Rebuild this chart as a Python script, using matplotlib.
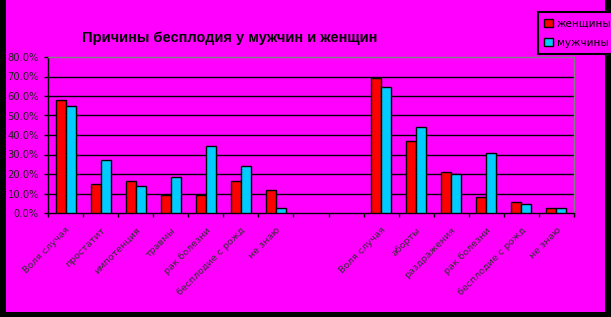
import numpy as np
import matplotlib
matplotlib.use("Agg")
import matplotlib.pyplot as plt
from matplotlib.patches import Rectangle

# Data (share of answers)
labels_left = ["Воля случая", "простатит", "импотенция", "травмы",
               "рак болезни", "бесплодие с рожд", "не знаю"]
women_left = [58.0, 14.9, 16.4, 9.4, 9.4, 16.4, 11.8]
men_left = [55.0, 27.2, 13.9, 18.5, 34.4, 24.1, 2.6]

labels_right = ["Воля случая", "аборты", "раздражения", "рак болезни",
                "бесплодие с рожд", "не знаю"]
women_right = [69.3, 37.0, 21.1, 8.2, 5.7, 2.6]
men_right = [64.7, 44.2, 20.0, 30.8, 4.6, 2.6]

n_gap = 2  # empty categories between the two groups

labels = labels_left + [""] * n_gap + labels_right
women = women_left + [np.nan] * n_gap + women_right
men = men_left + [np.nan] * n_gap + men_right

pink = "#FF00FF"
red = "#FF0000"
cyan = "#00CCFF"

W, H = 611, 317
fig = plt.figure(figsize=(W / 100, H / 100), dpi=100, facecolor="black")
fig.patches.append(Rectangle((6 / W, 5 / H), 599 / W, 1 - 5 / H,
                             transform=fig.transFigure, facecolor=pink,
                             edgecolor="none", zorder=-10))

ax = fig.add_axes([48 / W, 104 / H, 526 / W, 156 / H])
ax.set_facecolor(pink)

x = np.arange(len(labels))
bw = 10 / 35
ax.bar(x - bw / 2, women, bw, color=red, edgecolor="black", linewidth=1,
       label="женщины", zorder=3)
ax.bar(x + bw / 2, men, bw, color=cyan, edgecolor="black", linewidth=1,
       label="мужчины", zorder=3)

ax.set_xlim(-0.5, len(labels) - 0.5)
ax.set_ylim(0, 80)
yt = np.arange(0, 81, 10)
ax.set_yticks(yt)
ax.set_yticklabels([f"{v:.1f}%" for v in yt], fontsize=7.2, color="#202020",
                   family="DejaVu Sans")
for v in yt[1:-1]:
    ax.axhline(v, color="black", linewidth=1, zorder=1)

ax.set_xticks(np.arange(len(labels) + 1) - 0.5)
ax.set_xticklabels([])
ax.set_xticks(x, minor=True)
ax.set_xticklabels(labels, minor=True, rotation=45, ha="right",
                   rotation_mode="anchor", fontsize=6.8, color="#303030",
                   family="DejaVu Sans")
ax.tick_params(axis="x", which="minor", length=0, pad=9)
ax.tick_params(axis="both", which="major", direction="out", length=3,
               width=1, color="black")

ax.spines["left"].set_color("black")
ax.spines["bottom"].set_color("black")
ax.spines["top"].set_color("#808080")
ax.spines["right"].set_color("#808080")
for s in ax.spines.values():
    s.set_linewidth(1)

fig.text(230 / W, 1 - 38 / H, "Причины бесплодия у мужчин и женщин",
         ha="center", va="center", fontsize=10.5, fontweight="bold",
         family="Liberation Sans")

leg = fig.legend(loc="upper left", bbox_to_anchor=(538 / W, 1 - 12 / H),
                 fontsize=7.5, frameon=True, fancybox=False, handlelength=0.8,
                 handleheight=0.8, handletextpad=0.4, borderpad=0.6,
                 labelspacing=0.9, borderaxespad=0)
leg.get_frame().set_facecolor(pink)
leg.get_frame().set_edgecolor("black")
leg.get_frame().set_linewidth(1.5)
leg.get_frame().set_alpha(1)

fig.savefig("out.png", dpi=100, facecolor=fig.get_facecolor())
